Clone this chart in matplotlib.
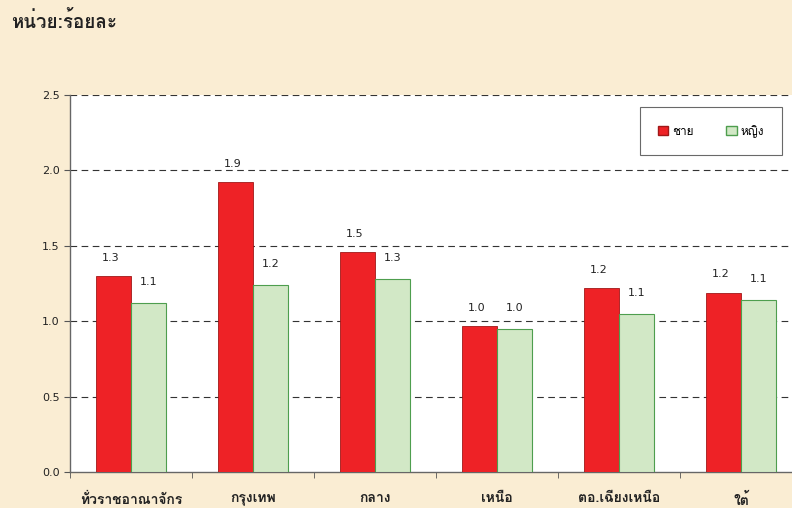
import matplotlib
matplotlib.use("Agg")
import matplotlib.pyplot as plt
import numpy as np
from matplotlib import font_manager
from matplotlib.ft2font import FT2Font
from matplotlib.patches import Patch


def thai_font():
    # first installed font that carries Thai glyphs
    for f in font_manager.fontManager.ttflist:
        try:
            if 0x0E01 in FT2Font(f.fname).get_charmap():
                return f.name
        except Exception:
            pass
    return "DejaVu Sans"


th = thai_font()
plt.rcParams['font.family'] = [th, 'DejaVu Sans']

regions = ['ทั่วราชอาณาจักร', 'กรุงเทพ', 'กลาง', 'เหนือ', 'ตอ.เฉียงเหนือ', 'ใต้']
male = [1.30, 1.92, 1.46, 0.97, 1.22, 1.19]
female = [1.12, 1.24, 1.28, 0.95, 1.05, 1.14]
male_labels = ['1.3', '1.9', '1.5', '1.0', '1.2', '1.2']
female_labels = ['1.1', '1.2', '1.3', '1.0', '1.1', '1.1']
series_names = ['ชาย', 'หญิง']

bg = '#FAEDD3'
red = '#EE2226'
green = '#D2E8C6'

fig = plt.figure(figsize=(7.92, 5.08), dpi=100, facecolor=bg)
ax = fig.add_axes([70 / 792, 36 / 508, 732 / 792, 377 / 508])
ax.set_facecolor('white')

x = np.arange(len(regions))
w = 0.29
ax.bar(x - w / 2, male, w, color=red, edgecolor='#A01818', linewidth=0.6, zorder=3)
ax.bar(x + w / 2, female, w, color=green, edgecolor='#4E9E4E', linewidth=0.8, zorder=3)

for i in range(len(regions)):
    ax.text(x[i] - w / 2 - 0.02, male[i] + 0.12, male_labels[i], ha='center', va='center',
            fontsize=8, color='#222222', family='DejaVu Sans')
    ax.text(x[i] + w / 2, female[i] + 0.14, female_labels[i], ha='center', va='center',
            fontsize=8, color='#222222', family='DejaVu Sans')

ax.set_xlim(-0.5, len(regions) - 0.5)
ax.set_ylim(0, 2.5)
ax.set_yticks([0, 0.5, 1.0, 1.5, 2.0, 2.5])
ax.set_yticklabels(['0.0', '0.5', '1.0', '1.5', '2.0', '2.5'], family='DejaVu Sans', fontsize=8)
for y in [0.5, 1.0, 1.5, 2.0, 2.5]:
    ax.axhline(y, color='#333333', linestyle=(0, (6, 4)), linewidth=0.8, zorder=1)

ax.set_xticks(x)
ax.set_xticklabels(regions, fontsize=10, fontweight='bold', color='#222222')
ax.set_xticks(np.arange(len(regions)) - 0.5, minor=True)
ax.tick_params(axis='x', which='major', length=0, pad=15)
ax.tick_params(axis='x', which='minor', length=4, color='#555555')
ax.tick_params(axis='y', length=4, color='#555555', labelcolor='#222222')

for s in ['top', 'right']:
    ax.spines[s].set_visible(False)
for s in ['left', 'bottom']:
    ax.spines[s].set_color('#666666')
    ax.spines[s].set_linewidth(1.0)

handles = [Patch(facecolor=red, edgecolor='#A01818'), Patch(facecolor=green, edgecolor='#4E9E4E')]
leg = ax.legend(handles, series_names, ncol=2, loc='upper left', bbox_to_anchor=(640 / 792, 401 / 508),
                bbox_transform=fig.transFigure, frameon=True, fancybox=False, fontsize=8.5,
                handlelength=0.9, handleheight=0.9, columnspacing=2.8, handletextpad=0.3,
                borderpad=1.5, borderaxespad=0)
leg.get_frame().set_edgecolor('#444444')
leg.get_frame().set_linewidth(0.8)

fig.text(11 / 792, 1 - 22 / 508, 'หน่วย:ร้อยละ', fontsize=13.5, fontweight='bold', color='#222222',
         va='center', ha='left')

fig.savefig('out.png', dpi=100, facecolor=bg)
